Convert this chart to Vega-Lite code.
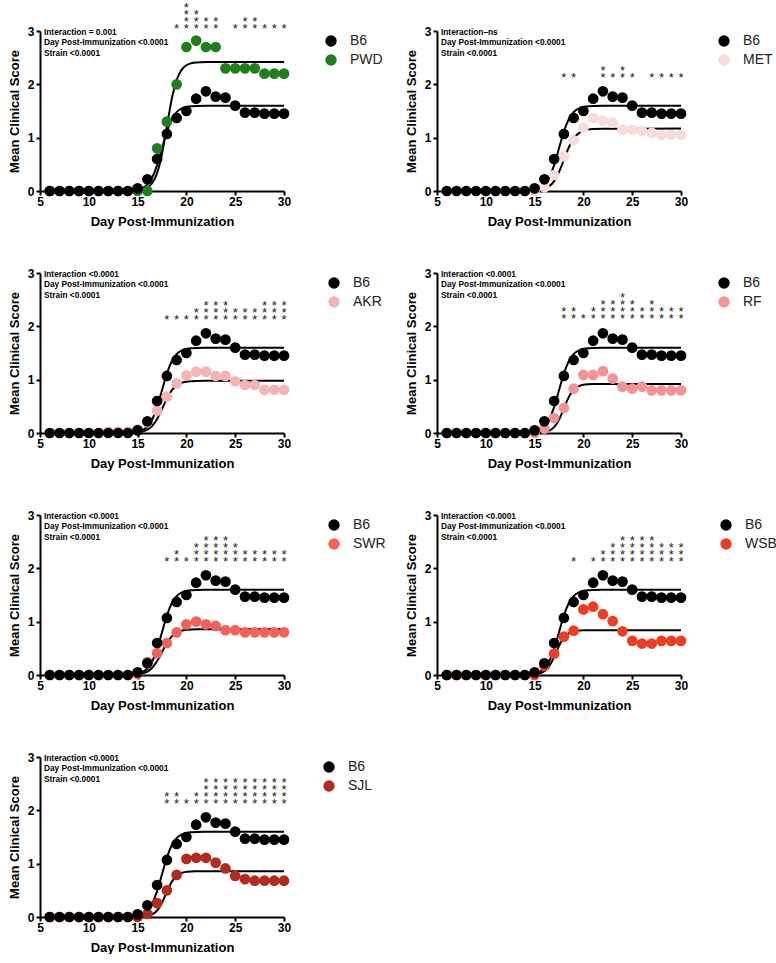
{
"$schema": "https://vega.github.io/schema/vega-lite/v6.json",
"padding": {"left": 8, "top": 2, "right": 0, "bottom": 0},
"bounds": "flush",
"columns": 2,
"spacing": {"row": 82, "column": 153},
"resolve": {"scale": {"color": "independent"}, "legend": {"color": "independent"}},
"datasets": {
"points": [
{"strain":"PWD","day":6,"score":0},{"strain":"PWD","day":7,"score":0},{"strain":"PWD","day":8,"score":0},{"strain":"PWD","day":9,"score":0},{"strain":"PWD","day":10,"score":0},{"strain":"PWD","day":11,"score":0},{"strain":"PWD","day":12,"score":0},{"strain":"PWD","day":13,"score":0},{"strain":"PWD","day":14,"score":0},{"strain":"PWD","day":15,"score":0},{"strain":"PWD","day":16,"score":0},{"strain":"PWD","day":17,"score":0.8},{"strain":"PWD","day":18,"score":1.3},{"strain":"PWD","day":19,"score":2.0},{"strain":"PWD","day":20,"score":2.7},{"strain":"PWD","day":21,"score":2.82},{"strain":"PWD","day":22,"score":2.7},{"strain":"PWD","day":23,"score":2.7},{"strain":"PWD","day":24,"score":2.3},{"strain":"PWD","day":25,"score":2.3},{"strain":"PWD","day":26,"score":2.3},{"strain":"PWD","day":27,"score":2.3},{"strain":"PWD","day":28,"score":2.2},{"strain":"PWD","day":29,"score":2.2},{"strain":"PWD","day":30,"score":2.2},
{"strain":"MET","day":6,"score":0},{"strain":"MET","day":7,"score":0},{"strain":"MET","day":8,"score":0},{"strain":"MET","day":9,"score":0},{"strain":"MET","day":10,"score":0},{"strain":"MET","day":11,"score":0},{"strain":"MET","day":12,"score":0},{"strain":"MET","day":13,"score":0},{"strain":"MET","day":14,"score":0},{"strain":"MET","day":15,"score":0},{"strain":"MET","day":16,"score":0.07},{"strain":"MET","day":17,"score":0.3},{"strain":"MET","day":18,"score":0.65},{"strain":"MET","day":19,"score":0.95},{"strain":"MET","day":20,"score":1.18},{"strain":"MET","day":21,"score":1.37},{"strain":"MET","day":22,"score":1.32},{"strain":"MET","day":23,"score":1.28},{"strain":"MET","day":24,"score":1.15},{"strain":"MET","day":25,"score":1.15},{"strain":"MET","day":26,"score":1.13},{"strain":"MET","day":27,"score":1.09},{"strain":"MET","day":28,"score":1.05},{"strain":"MET","day":29,"score":1.05},{"strain":"MET","day":30,"score":1.05},
{"strain":"AKR","day":6,"score":0},{"strain":"AKR","day":7,"score":0},{"strain":"AKR","day":8,"score":0},{"strain":"AKR","day":9,"score":0},{"strain":"AKR","day":10,"score":0},{"strain":"AKR","day":11,"score":0},{"strain":"AKR","day":12,"score":0.02},{"strain":"AKR","day":13,"score":0.02},{"strain":"AKR","day":14,"score":0.02},{"strain":"AKR","day":15,"score":0.07},{"strain":"AKR","day":16,"score":0.2},{"strain":"AKR","day":17,"score":0.42},{"strain":"AKR","day":18,"score":0.68},{"strain":"AKR","day":19,"score":0.93},{"strain":"AKR","day":20,"score":1.08},{"strain":"AKR","day":21,"score":1.15},{"strain":"AKR","day":22,"score":1.15},{"strain":"AKR","day":23,"score":1.07},{"strain":"AKR","day":24,"score":1.07},{"strain":"AKR","day":25,"score":0.97},{"strain":"AKR","day":26,"score":0.9},{"strain":"AKR","day":27,"score":0.9},{"strain":"AKR","day":28,"score":0.81},{"strain":"AKR","day":29,"score":0.81},{"strain":"AKR","day":30,"score":0.81},
{"strain":"RF","day":6,"score":0},{"strain":"RF","day":7,"score":0},{"strain":"RF","day":8,"score":0},{"strain":"RF","day":9,"score":0},{"strain":"RF","day":10,"score":0},{"strain":"RF","day":11,"score":0},{"strain":"RF","day":12,"score":0},{"strain":"RF","day":13,"score":0},{"strain":"RF","day":14,"score":0},{"strain":"RF","day":15,"score":0},{"strain":"RF","day":16,"score":0.08},{"strain":"RF","day":17,"score":0.28},{"strain":"RF","day":18,"score":0.47},{"strain":"RF","day":19,"score":0.83},{"strain":"RF","day":20,"score":1.09},{"strain":"RF","day":21,"score":1.09},{"strain":"RF","day":22,"score":1.16},{"strain":"RF","day":23,"score":1.02},{"strain":"RF","day":24,"score":0.87},{"strain":"RF","day":25,"score":0.83},{"strain":"RF","day":26,"score":0.87},{"strain":"RF","day":27,"score":0.8},{"strain":"RF","day":28,"score":0.8},{"strain":"RF","day":29,"score":0.8},{"strain":"RF","day":30,"score":0.8},
{"strain":"SWR","day":6,"score":0},{"strain":"SWR","day":7,"score":0},{"strain":"SWR","day":8,"score":0},{"strain":"SWR","day":9,"score":0},{"strain":"SWR","day":10,"score":0},{"strain":"SWR","day":11,"score":0},{"strain":"SWR","day":12,"score":0},{"strain":"SWR","day":13,"score":0},{"strain":"SWR","day":14,"score":0},{"strain":"SWR","day":15,"score":0.02},{"strain":"SWR","day":16,"score":0.24},{"strain":"SWR","day":17,"score":0.41},{"strain":"SWR","day":18,"score":0.6},{"strain":"SWR","day":19,"score":0.8},{"strain":"SWR","day":20,"score":0.95},{"strain":"SWR","day":21,"score":1.0},{"strain":"SWR","day":22,"score":0.95},{"strain":"SWR","day":23,"score":0.92},{"strain":"SWR","day":24,"score":0.84},{"strain":"SWR","day":25,"score":0.84},{"strain":"SWR","day":26,"score":0.8},{"strain":"SWR","day":27,"score":0.8},{"strain":"SWR","day":28,"score":0.8},{"strain":"SWR","day":29,"score":0.8},{"strain":"SWR","day":30,"score":0.8},
{"strain":"WSB","day":6,"score":0},{"strain":"WSB","day":7,"score":0},{"strain":"WSB","day":8,"score":0},{"strain":"WSB","day":9,"score":0},{"strain":"WSB","day":10,"score":0},{"strain":"WSB","day":11,"score":0},{"strain":"WSB","day":12,"score":0},{"strain":"WSB","day":13,"score":0},{"strain":"WSB","day":14,"score":0},{"strain":"WSB","day":15,"score":0},{"strain":"WSB","day":16,"score":0.17},{"strain":"WSB","day":17,"score":0.4},{"strain":"WSB","day":18,"score":0.72},{"strain":"WSB","day":19,"score":0.83},{"strain":"WSB","day":20,"score":1.23},{"strain":"WSB","day":21,"score":1.28},{"strain":"WSB","day":22,"score":1.14},{"strain":"WSB","day":23,"score":1.01},{"strain":"WSB","day":24,"score":0.82},{"strain":"WSB","day":25,"score":0.64},{"strain":"WSB","day":26,"score":0.59},{"strain":"WSB","day":27,"score":0.59},{"strain":"WSB","day":28,"score":0.64},{"strain":"WSB","day":29,"score":0.64},{"strain":"WSB","day":30,"score":0.64},
{"strain":"SJL","day":6,"score":0},{"strain":"SJL","day":7,"score":0},{"strain":"SJL","day":8,"score":0},{"strain":"SJL","day":9,"score":0},{"strain":"SJL","day":10,"score":0},{"strain":"SJL","day":11,"score":0},{"strain":"SJL","day":12,"score":0},{"strain":"SJL","day":13,"score":0},{"strain":"SJL","day":14,"score":0},{"strain":"SJL","day":15,"score":0},{"strain":"SJL","day":16,"score":0.06},{"strain":"SJL","day":17,"score":0.26},{"strain":"SJL","day":18,"score":0.5},{"strain":"SJL","day":19,"score":0.79},{"strain":"SJL","day":20,"score":1.09},{"strain":"SJL","day":21,"score":1.11},{"strain":"SJL","day":22,"score":1.11},{"strain":"SJL","day":23,"score":1.02},{"strain":"SJL","day":24,"score":0.91},{"strain":"SJL","day":25,"score":0.77},{"strain":"SJL","day":26,"score":0.71},{"strain":"SJL","day":27,"score":0.68},{"strain":"SJL","day":28,"score":0.68},{"strain":"SJL","day":29,"score":0.68},{"strain":"SJL","day":30,"score":0.68},
{"strain":"B6","day":6,"score":0},{"strain":"B6","day":7,"score":0},{"strain":"B6","day":8,"score":0},{"strain":"B6","day":9,"score":0},{"strain":"B6","day":10,"score":0},{"strain":"B6","day":11,"score":0},{"strain":"B6","day":12,"score":0},{"strain":"B6","day":13,"score":0},{"strain":"B6","day":14,"score":0},{"strain":"B6","day":15,"score":0.05},{"strain":"B6","day":16,"score":0.22},{"strain":"B6","day":17,"score":0.6},{"strain":"B6","day":18,"score":1.07},{"strain":"B6","day":19,"score":1.37},{"strain":"B6","day":20,"score":1.5},{"strain":"B6","day":21,"score":1.73},{"strain":"B6","day":22,"score":1.87},{"strain":"B6","day":23,"score":1.77},{"strain":"B6","day":24,"score":1.75},{"strain":"B6","day":25,"score":1.6},{"strain":"B6","day":26,"score":1.47},{"strain":"B6","day":27,"score":1.47},{"strain":"B6","day":28,"score":1.45},{"strain":"B6","day":29,"score":1.45},{"strain":"B6","day":30,"score":1.45}
],
"fits": [
{"strain":"B6","day":6,"score":0},{"strain":"B6","day":14,"score":0.004},{"strain":"B6","day":14.5,"score":0.011},{"strain":"B6","day":15,"score":0.025},{"strain":"B6","day":15.5,"score":0.055},{"strain":"B6","day":16,"score":0.121},{"strain":"B6","day":16.5,"score":0.254},{"strain":"B6","day":17,"score":0.485},{"strain":"B6","day":17.5,"score":0.8},{"strain":"B6","day":18,"score":1.115},{"strain":"B6","day":18.5,"score":1.346},{"strain":"B6","day":19,"score":1.479},{"strain":"B6","day":19.5,"score":1.545},{"strain":"B6","day":20,"score":1.575},{"strain":"B6","day":20.5,"score":1.589},{"strain":"B6","day":21,"score":1.595},{"strain":"B6","day":22,"score":1.6},{"strain":"B6","day":30,"score":1.6},
{"strain":"PWD","day":6,"score":0},{"strain":"PWD","day":14.5,"score":0.003},{"strain":"PWD","day":15,"score":0.01},{"strain":"PWD","day":15.5,"score":0.025},{"strain":"PWD","day":16,"score":0.062},{"strain":"PWD","day":16.5,"score":0.149},{"strain":"PWD","day":17,"score":0.338},{"strain":"PWD","day":17.5,"score":0.695},{"strain":"PWD","day":18,"score":1.21},{"strain":"PWD","day":18.5,"score":1.725},{"strain":"PWD","day":19,"score":2.082},{"strain":"PWD","day":19.5,"score":2.271},{"strain":"PWD","day":20,"score":2.358},{"strain":"PWD","day":20.5,"score":2.395},{"strain":"PWD","day":21,"score":2.41},{"strain":"PWD","day":22,"score":2.419},{"strain":"PWD","day":30,"score":2.42},
{"strain":"MET","day":6,"score":0},{"strain":"MET","day":15,"score":0.008},{"strain":"MET","day":15.5,"score":0.018},{"strain":"MET","day":16,"score":0.04},{"strain":"MET","day":16.5,"score":0.089},{"strain":"MET","day":17,"score":0.186},{"strain":"MET","day":17.5,"score":0.355},{"strain":"MET","day":18,"score":0.585},{"strain":"MET","day":18.5,"score":0.815},{"strain":"MET","day":19,"score":0.984},{"strain":"MET","day":19.5,"score":1.081},{"strain":"MET","day":20,"score":1.13},{"strain":"MET","day":20.5,"score":1.152},{"strain":"MET","day":21,"score":1.162},{"strain":"MET","day":22,"score":1.168},{"strain":"MET","day":30,"score":1.17},
{"strain":"AKR","day":6,"score":0},{"strain":"AKR","day":15,"score":0.013},{"strain":"AKR","day":15.5,"score":0.029},{"strain":"AKR","day":16,"score":0.064},{"strain":"AKR","day":16.5,"score":0.135},{"strain":"AKR","day":17,"score":0.264},{"strain":"AKR","day":17.5,"score":0.449},{"strain":"AKR","day":18,"score":0.648},{"strain":"AKR","day":18.5,"score":0.801},{"strain":"AKR","day":19,"score":0.893},{"strain":"AKR","day":19.5,"score":0.94},{"strain":"AKR","day":20,"score":0.962},{"strain":"AKR","day":20.5,"score":0.972},{"strain":"AKR","day":21,"score":0.977},{"strain":"AKR","day":22,"score":0.98},{"strain":"AKR","day":30,"score":0.98},
{"strain":"RF","day":6,"score":0},{"strain":"RF","day":15.5,"score":0.006},{"strain":"RF","day":16,"score":0.017},{"strain":"RF","day":16.5,"score":0.044},{"strain":"RF","day":17,"score":0.11},{"strain":"RF","day":17.5,"score":0.247},{"strain":"RF","day":18,"score":0.46},{"strain":"RF","day":18.5,"score":0.673},{"strain":"RF","day":19,"score":0.81},{"strain":"RF","day":19.5,"score":0.876},{"strain":"RF","day":20,"score":0.904},{"strain":"RF","day":20.5,"score":0.914},{"strain":"RF","day":21,"score":0.918},{"strain":"RF","day":22,"score":0.92},{"strain":"RF","day":30,"score":0.92},
{"strain":"SWR","day":6,"score":0},{"strain":"SWR","day":15,"score":0.013},{"strain":"SWR","day":15.5,"score":0.03},{"strain":"SWR","day":16,"score":0.065},{"strain":"SWR","day":16.5,"score":0.137},{"strain":"SWR","day":17,"score":0.261},{"strain":"SWR","day":17.5,"score":0.43},{"strain":"SWR","day":18,"score":0.599},{"strain":"SWR","day":18.5,"score":0.724},{"strain":"SWR","day":19,"score":0.795},{"strain":"SWR","day":19.5,"score":0.83},{"strain":"SWR","day":20,"score":0.847},{"strain":"SWR","day":20.5,"score":0.854},{"strain":"SWR","day":21,"score":0.858},{"strain":"SWR","day":22,"score":0.86},{"strain":"SWR","day":30,"score":0.86},
{"strain":"WSB","day":6,"score":0},{"strain":"WSB","day":15,"score":0.01},{"strain":"WSB","day":15.5,"score":0.027},{"strain":"WSB","day":16,"score":0.07},{"strain":"WSB","day":16.5,"score":0.166},{"strain":"WSB","day":17,"score":0.337},{"strain":"WSB","day":17.5,"score":0.542},{"strain":"WSB","day":18,"score":0.699},{"strain":"WSB","day":18.5,"score":0.782},{"strain":"WSB","day":19,"score":0.818},{"strain":"WSB","day":19.5,"score":0.832},{"strain":"WSB","day":20,"score":0.837},{"strain":"WSB","day":21,"score":0.839},{"strain":"WSB","day":22,"score":0.84},{"strain":"WSB","day":30,"score":0.84},
{"strain":"SJL","day":6,"score":0},{"strain":"SJL","day":15,"score":0.003},{"strain":"SJL","day":15.5,"score":0.007},{"strain":"SJL","day":16,"score":0.019},{"strain":"SJL","day":16.5,"score":0.049},{"strain":"SJL","day":17,"score":0.122},{"strain":"SJL","day":17.5,"score":0.267},{"strain":"SJL","day":18,"score":0.473},{"strain":"SJL","day":18.5,"score":0.661},{"strain":"SJL","day":19,"score":0.774},{"strain":"SJL","day":19.5,"score":0.826},{"strain":"SJL","day":20,"score":0.847},{"strain":"SJL","day":20.5,"score":0.854},{"strain":"SJL","day":21,"score":0.857},{"strain":"SJL","day":22,"score":0.86},{"strain":"SJL","day":30,"score":0.86}
],
"stars": [
{"strain":"PWD","day":19,"rank":1},{"strain":"PWD","day":20,"rank":1},{"strain":"PWD","day":20,"rank":2},{"strain":"PWD","day":20,"rank":3},{"strain":"PWD","day":20,"rank":4},{"strain":"PWD","day":21,"rank":1},{"strain":"PWD","day":21,"rank":2},{"strain":"PWD","day":21,"rank":3},{"strain":"PWD","day":22,"rank":1},{"strain":"PWD","day":22,"rank":2},{"strain":"PWD","day":23,"rank":1},{"strain":"PWD","day":23,"rank":2},{"strain":"PWD","day":25,"rank":1},{"strain":"PWD","day":26,"rank":1},{"strain":"PWD","day":26,"rank":2},{"strain":"PWD","day":27,"rank":1},{"strain":"PWD","day":27,"rank":2},{"strain":"PWD","day":28,"rank":1},{"strain":"PWD","day":29,"rank":1},{"strain":"PWD","day":30,"rank":1},
{"strain":"MET","day":18,"rank":1},{"strain":"MET","day":19,"rank":1},{"strain":"MET","day":22,"rank":1},{"strain":"MET","day":22,"rank":2},{"strain":"MET","day":23,"rank":1},{"strain":"MET","day":24,"rank":1},{"strain":"MET","day":24,"rank":2},{"strain":"MET","day":25,"rank":1},{"strain":"MET","day":27,"rank":1},{"strain":"MET","day":28,"rank":1},{"strain":"MET","day":29,"rank":1},{"strain":"MET","day":30,"rank":1},
{"strain":"AKR","day":18,"rank":1},{"strain":"AKR","day":19,"rank":1},{"strain":"AKR","day":20,"rank":1},{"strain":"AKR","day":21,"rank":1},{"strain":"AKR","day":21,"rank":2},{"strain":"AKR","day":22,"rank":1},{"strain":"AKR","day":22,"rank":2},{"strain":"AKR","day":22,"rank":3},{"strain":"AKR","day":23,"rank":1},{"strain":"AKR","day":23,"rank":2},{"strain":"AKR","day":23,"rank":3},{"strain":"AKR","day":24,"rank":1},{"strain":"AKR","day":24,"rank":2},{"strain":"AKR","day":24,"rank":3},{"strain":"AKR","day":25,"rank":1},{"strain":"AKR","day":25,"rank":2},{"strain":"AKR","day":26,"rank":1},{"strain":"AKR","day":26,"rank":2},{"strain":"AKR","day":27,"rank":1},{"strain":"AKR","day":27,"rank":2},{"strain":"AKR","day":28,"rank":1},{"strain":"AKR","day":28,"rank":2},{"strain":"AKR","day":28,"rank":3},{"strain":"AKR","day":29,"rank":1},{"strain":"AKR","day":29,"rank":2},{"strain":"AKR","day":29,"rank":3},{"strain":"AKR","day":30,"rank":1},{"strain":"AKR","day":30,"rank":2},{"strain":"AKR","day":30,"rank":3},
{"strain":"RF","day":18,"rank":1},{"strain":"RF","day":18,"rank":2},{"strain":"RF","day":19,"rank":1},{"strain":"RF","day":19,"rank":2},{"strain":"RF","day":20,"rank":1},{"strain":"RF","day":21,"rank":1},{"strain":"RF","day":21,"rank":2},{"strain":"RF","day":22,"rank":1},{"strain":"RF","day":22,"rank":2},{"strain":"RF","day":22,"rank":3},{"strain":"RF","day":23,"rank":1},{"strain":"RF","day":23,"rank":2},{"strain":"RF","day":23,"rank":3},{"strain":"RF","day":24,"rank":1},{"strain":"RF","day":24,"rank":2},{"strain":"RF","day":24,"rank":3},{"strain":"RF","day":24,"rank":4},{"strain":"RF","day":25,"rank":1},{"strain":"RF","day":25,"rank":2},{"strain":"RF","day":25,"rank":3},{"strain":"RF","day":26,"rank":1},{"strain":"RF","day":26,"rank":2},{"strain":"RF","day":27,"rank":1},{"strain":"RF","day":27,"rank":2},{"strain":"RF","day":27,"rank":3},{"strain":"RF","day":28,"rank":1},{"strain":"RF","day":28,"rank":2},{"strain":"RF","day":29,"rank":1},{"strain":"RF","day":29,"rank":2},{"strain":"RF","day":30,"rank":1},{"strain":"RF","day":30,"rank":2},
{"strain":"SWR","day":18,"rank":1},{"strain":"SWR","day":19,"rank":1},{"strain":"SWR","day":19,"rank":2},{"strain":"SWR","day":20,"rank":1},{"strain":"SWR","day":21,"rank":1},{"strain":"SWR","day":21,"rank":2},{"strain":"SWR","day":21,"rank":3},{"strain":"SWR","day":22,"rank":1},{"strain":"SWR","day":22,"rank":2},{"strain":"SWR","day":22,"rank":3},{"strain":"SWR","day":22,"rank":4},{"strain":"SWR","day":23,"rank":1},{"strain":"SWR","day":23,"rank":2},{"strain":"SWR","day":23,"rank":3},{"strain":"SWR","day":23,"rank":4},{"strain":"SWR","day":24,"rank":1},{"strain":"SWR","day":24,"rank":2},{"strain":"SWR","day":24,"rank":3},{"strain":"SWR","day":24,"rank":4},{"strain":"SWR","day":25,"rank":1},{"strain":"SWR","day":25,"rank":2},{"strain":"SWR","day":25,"rank":3},{"strain":"SWR","day":26,"rank":1},{"strain":"SWR","day":26,"rank":2},{"strain":"SWR","day":27,"rank":1},{"strain":"SWR","day":27,"rank":2},{"strain":"SWR","day":28,"rank":1},{"strain":"SWR","day":28,"rank":2},{"strain":"SWR","day":29,"rank":1},{"strain":"SWR","day":29,"rank":2},{"strain":"SWR","day":30,"rank":1},{"strain":"SWR","day":30,"rank":2},
{"strain":"WSB","day":19,"rank":1},{"strain":"WSB","day":21,"rank":1},{"strain":"WSB","day":22,"rank":1},{"strain":"WSB","day":22,"rank":2},{"strain":"WSB","day":23,"rank":1},{"strain":"WSB","day":23,"rank":2},{"strain":"WSB","day":23,"rank":3},{"strain":"WSB","day":24,"rank":1},{"strain":"WSB","day":24,"rank":2},{"strain":"WSB","day":24,"rank":3},{"strain":"WSB","day":24,"rank":4},{"strain":"WSB","day":25,"rank":1},{"strain":"WSB","day":25,"rank":2},{"strain":"WSB","day":25,"rank":3},{"strain":"WSB","day":25,"rank":4},{"strain":"WSB","day":26,"rank":1},{"strain":"WSB","day":26,"rank":2},{"strain":"WSB","day":26,"rank":3},{"strain":"WSB","day":26,"rank":4},{"strain":"WSB","day":27,"rank":1},{"strain":"WSB","day":27,"rank":2},{"strain":"WSB","day":27,"rank":3},{"strain":"WSB","day":27,"rank":4},{"strain":"WSB","day":28,"rank":1},{"strain":"WSB","day":28,"rank":2},{"strain":"WSB","day":28,"rank":3},{"strain":"WSB","day":29,"rank":1},{"strain":"WSB","day":29,"rank":2},{"strain":"WSB","day":29,"rank":3},{"strain":"WSB","day":30,"rank":1},{"strain":"WSB","day":30,"rank":2},{"strain":"WSB","day":30,"rank":3},
{"strain":"SJL","day":18,"rank":1},{"strain":"SJL","day":18,"rank":2},{"strain":"SJL","day":19,"rank":1},{"strain":"SJL","day":19,"rank":2},{"strain":"SJL","day":20,"rank":1},{"strain":"SJL","day":21,"rank":1},{"strain":"SJL","day":21,"rank":2},
{"strain":"SJL","day":22,"rank":1},{"strain":"SJL","day":22,"rank":2},{"strain":"SJL","day":22,"rank":3},{"strain":"SJL","day":22,"rank":4},
{"strain":"SJL","day":23,"rank":1},{"strain":"SJL","day":23,"rank":2},{"strain":"SJL","day":23,"rank":3},{"strain":"SJL","day":23,"rank":4},
{"strain":"SJL","day":24,"rank":1},{"strain":"SJL","day":24,"rank":2},{"strain":"SJL","day":24,"rank":3},{"strain":"SJL","day":24,"rank":4},
{"strain":"SJL","day":25,"rank":1},{"strain":"SJL","day":25,"rank":2},{"strain":"SJL","day":25,"rank":3},{"strain":"SJL","day":25,"rank":4},
{"strain":"SJL","day":26,"rank":1},{"strain":"SJL","day":26,"rank":2},{"strain":"SJL","day":26,"rank":3},{"strain":"SJL","day":26,"rank":4},
{"strain":"SJL","day":27,"rank":1},{"strain":"SJL","day":27,"rank":2},{"strain":"SJL","day":27,"rank":3},{"strain":"SJL","day":27,"rank":4},
{"strain":"SJL","day":28,"rank":1},{"strain":"SJL","day":28,"rank":2},{"strain":"SJL","day":28,"rank":3},{"strain":"SJL","day":28,"rank":4},
{"strain":"SJL","day":29,"rank":1},{"strain":"SJL","day":29,"rank":2},{"strain":"SJL","day":29,"rank":3},{"strain":"SJL","day":29,"rank":4},
{"strain":"SJL","day":30,"rank":1},{"strain":"SJL","day":30,"rank":2},{"strain":"SJL","day":30,"rank":3},{"strain":"SJL","day":30,"rank":4}
],
"notes": [
{"strain":"PWD","note":"Interaction = 0.001\nDay Post-Immunization <0.0001\nStrain <0.0001"},
{"strain":"MET","note":"Interaction–ns\nDay Post-Immunization <0.0001\nStrain <0.0001"},
{"strain":"AKR","note":"Interaction <0.0001\nDay Post-Immunization <0.0001\nStrain <0.0001"},
{"strain":"RF","note":"Interaction <0.0001\nDay Post-Immunization <0.0001\nStrain <0.0001"},
{"strain":"SWR","note":"Interaction <0.0001\nDay Post-Immunization <0.0001\nStrain <0.0001"},
{"strain":"WSB","note":"Interaction <0.0001\nDay Post-Immunization <0.0001\nStrain <0.0001"},
{"strain":"SJL","note":"Interaction <0.0001\nDay Post-Immunization <0.0001\nStrain <0.0001"}
]
},
"concat": [
{"width":244,"height":160,"layer":[
{"data":{"name":"fits"},"transform":[{"filter":{"field":"strain","oneOf":["B6","PWD"]}}],"mark":{"type":"line","color":"#000","strokeWidth":2,"interpolate":"monotone"},"encoding":{"x":{"field":"day","type":"quantitative","scale":{"domain":[5,30],"nice":false},"title":"Day Post-Immunization"},"y":{"field":"score","type":"quantitative","scale":{"domain":[0,3],"nice":false},"title":"Mean Clinical Score"},"detail":{"field":"strain","type":"nominal"}}},
{"data":{"name":"points"},"transform":[{"filter":{"field":"strain","oneOf":["B6","PWD"]}}],"mark":{"type":"circle","size":115,"opacity":1},"encoding":{"x":{"field":"day","type":"quantitative","scale":{"domain":[5,30],"nice":false},"title":"Day Post-Immunization"},"y":{"field":"score","type":"quantitative","scale":{"domain":[0,3],"nice":false},"title":"Mean Clinical Score"},"color":{"field":"strain","type":"nominal","scale":{"domain":["B6","PWD"],"range":["#000000","#1f7f1f"]},"legend":{"title":null,"orient":"none","legendX":284,"legendY":3}}}},
{"data":{"name":"stars"},"transform":[{"filter":{"field":"strain","equal":"PWD"}}],"mark":{"type":"text","text":"*","fontSize":13,"baseline":"middle","dy":4,"color":"#222"},"encoding":{"x":{"field":"day","type":"quantitative","scale":{"domain":[5,30],"nice":false},"title":"Day Post-Immunization"},"y":{"datum":3.11,"type":"quantitative","scale":{"domain":[0,3],"nice":false},"title":"Mean Clinical Score"},"yOffset":{"field":"rank","type":"quantitative","scale":{"domain":[1,4],"range":[0,-21]}}}},
{"data":{"name":"notes"},"transform":[{"filter":{"field":"strain","equal":"PWD"}}],"mark":{"type":"text","align":"left","baseline":"top","dx":4,"dy":-3,"fontSize":8.3,"fontWeight":"bold","lineHeight":10.3,"lineBreak":"\n","color":"#000"},"encoding":{"x":{"datum":5,"type":"quantitative","scale":{"domain":[5,30],"nice":false},"title":"Day Post-Immunization"},"y":{"datum":3,"type":"quantitative","scale":{"domain":[0,3],"nice":false},"title":"Mean Clinical Score"},"text":{"field":"note","type":"nominal"}}}
]},
{"width":244,"height":160,"layer":[
{"data":{"name":"fits"},"transform":[{"filter":{"field":"strain","oneOf":["B6","MET"]}}],"mark":{"type":"line","color":"#000","strokeWidth":2,"interpolate":"monotone"},"encoding":{"x":{"field":"day","type":"quantitative","scale":{"domain":[5,30],"nice":false},"title":"Day Post-Immunization"},"y":{"field":"score","type":"quantitative","scale":{"domain":[0,3],"nice":false},"title":"Mean Clinical Score"},"detail":{"field":"strain","type":"nominal"}}},
{"data":{"name":"points"},"transform":[{"filter":{"field":"strain","oneOf":["B6","MET"]}}],"mark":{"type":"circle","size":115,"opacity":1},"encoding":{"x":{"field":"day","type":"quantitative","scale":{"domain":[5,30],"nice":false},"title":"Day Post-Immunization"},"y":{"field":"score","type":"quantitative","scale":{"domain":[0,3],"nice":false},"title":"Mean Clinical Score"},"color":{"field":"strain","type":"nominal","scale":{"domain":["B6","MET"],"range":["#000000","#f8dcdc"]},"legend":{"title":null,"orient":"none","legendX":280,"legendY":3}}}},
{"data":{"name":"stars"},"transform":[{"filter":{"field":"strain","equal":"MET"}}],"mark":{"type":"text","text":"*","fontSize":13,"baseline":"middle","dy":4,"color":"#222"},"encoding":{"x":{"field":"day","type":"quantitative","scale":{"domain":[5,30],"nice":false},"title":"Day Post-Immunization"},"y":{"datum":2.19,"type":"quantitative","scale":{"domain":[0,3],"nice":false},"title":"Mean Clinical Score"},"yOffset":{"field":"rank","type":"quantitative","scale":{"domain":[1,4],"range":[0,-21]}}}},
{"data":{"name":"notes"},"transform":[{"filter":{"field":"strain","equal":"MET"}}],"mark":{"type":"text","align":"left","baseline":"top","dx":4,"dy":-3,"fontSize":8.3,"fontWeight":"bold","lineHeight":10.3,"lineBreak":"\n","color":"#000"},"encoding":{"x":{"datum":5,"type":"quantitative","scale":{"domain":[5,30],"nice":false},"title":"Day Post-Immunization"},"y":{"datum":3,"type":"quantitative","scale":{"domain":[0,3],"nice":false},"title":"Mean Clinical Score"},"text":{"field":"note","type":"nominal"}}}
]},
{"width":244,"height":160,"layer":[
{"data":{"name":"fits"},"transform":[{"filter":{"field":"strain","oneOf":["B6","AKR"]}}],"mark":{"type":"line","color":"#000","strokeWidth":2,"interpolate":"monotone"},"encoding":{"x":{"field":"day","type":"quantitative","scale":{"domain":[5,30],"nice":false},"title":"Day Post-Immunization"},"y":{"field":"score","type":"quantitative","scale":{"domain":[0,3],"nice":false},"title":"Mean Clinical Score"},"detail":{"field":"strain","type":"nominal"}}},
{"data":{"name":"points"},"transform":[{"filter":{"field":"strain","oneOf":["B6","AKR"]}}],"mark":{"type":"circle","size":115,"opacity":1},"encoding":{"x":{"field":"day","type":"quantitative","scale":{"domain":[5,30],"nice":false},"title":"Day Post-Immunization"},"y":{"field":"score","type":"quantitative","scale":{"domain":[0,3],"nice":false},"title":"Mean Clinical Score"},"color":{"field":"strain","type":"nominal","scale":{"domain":["B6","AKR"],"range":["#000000","#f6b3b3"]},"legend":{"title":null,"orient":"none","legendX":287,"legendY":3}}}},
{"data":{"name":"stars"},"transform":[{"filter":{"field":"strain","equal":"AKR"}}],"mark":{"type":"text","text":"*","fontSize":13,"baseline":"middle","dy":4,"color":"#222"},"encoding":{"x":{"field":"day","type":"quantitative","scale":{"domain":[5,30],"nice":false},"title":"Day Post-Immunization"},"y":{"datum":2.2,"type":"quantitative","scale":{"domain":[0,3],"nice":false},"title":"Mean Clinical Score"},"yOffset":{"field":"rank","type":"quantitative","scale":{"domain":[1,4],"range":[0,-21]}}}},
{"data":{"name":"notes"},"transform":[{"filter":{"field":"strain","equal":"AKR"}}],"mark":{"type":"text","align":"left","baseline":"top","dx":4,"dy":-3,"fontSize":8.3,"fontWeight":"bold","lineHeight":10.3,"lineBreak":"\n","color":"#000"},"encoding":{"x":{"datum":5,"type":"quantitative","scale":{"domain":[5,30],"nice":false},"title":"Day Post-Immunization"},"y":{"datum":3,"type":"quantitative","scale":{"domain":[0,3],"nice":false},"title":"Mean Clinical Score"},"text":{"field":"note","type":"nominal"}}}
]},
{"width":244,"height":160,"layer":[
{"data":{"name":"fits"},"transform":[{"filter":{"field":"strain","oneOf":["B6","RF"]}}],"mark":{"type":"line","color":"#000","strokeWidth":2,"interpolate":"monotone"},"encoding":{"x":{"field":"day","type":"quantitative","scale":{"domain":[5,30],"nice":false},"title":"Day Post-Immunization"},"y":{"field":"score","type":"quantitative","scale":{"domain":[0,3],"nice":false},"title":"Mean Clinical Score"},"detail":{"field":"strain","type":"nominal"}}},
{"data":{"name":"points"},"transform":[{"filter":{"field":"strain","oneOf":["B6","RF"]}}],"mark":{"type":"circle","size":115,"opacity":1},"encoding":{"x":{"field":"day","type":"quantitative","scale":{"domain":[5,30],"nice":false},"title":"Day Post-Immunization"},"y":{"field":"score","type":"quantitative","scale":{"domain":[0,3],"nice":false},"title":"Mean Clinical Score"},"color":{"field":"strain","type":"nominal","scale":{"domain":["B6","RF"],"range":["#000000","#f39393"]},"legend":{"title":null,"orient":"none","legendX":280,"legendY":3}}}},
{"data":{"name":"stars"},"transform":[{"filter":{"field":"strain","equal":"RF"}}],"mark":{"type":"text","text":"*","fontSize":13,"baseline":"middle","dy":4,"color":"#222"},"encoding":{"x":{"field":"day","type":"quantitative","scale":{"domain":[5,30],"nice":false},"title":"Day Post-Immunization"},"y":{"datum":2.22,"type":"quantitative","scale":{"domain":[0,3],"nice":false},"title":"Mean Clinical Score"},"yOffset":{"field":"rank","type":"quantitative","scale":{"domain":[1,4],"range":[0,-21]}}}},
{"data":{"name":"notes"},"transform":[{"filter":{"field":"strain","equal":"RF"}}],"mark":{"type":"text","align":"left","baseline":"top","dx":4,"dy":-3,"fontSize":8.3,"fontWeight":"bold","lineHeight":10.3,"lineBreak":"\n","color":"#000"},"encoding":{"x":{"datum":5,"type":"quantitative","scale":{"domain":[5,30],"nice":false},"title":"Day Post-Immunization"},"y":{"datum":3,"type":"quantitative","scale":{"domain":[0,3],"nice":false},"title":"Mean Clinical Score"},"text":{"field":"note","type":"nominal"}}}
]},
{"width":244,"height":160,"layer":[
{"data":{"name":"fits"},"transform":[{"filter":{"field":"strain","oneOf":["B6","SWR"]}}],"mark":{"type":"line","color":"#000","strokeWidth":2,"interpolate":"monotone"},"encoding":{"x":{"field":"day","type":"quantitative","scale":{"domain":[5,30],"nice":false},"title":"Day Post-Immunization"},"y":{"field":"score","type":"quantitative","scale":{"domain":[0,3],"nice":false},"title":"Mean Clinical Score"},"detail":{"field":"strain","type":"nominal"}}},
{"data":{"name":"points"},"transform":[{"filter":{"field":"strain","oneOf":["B6","SWR"]}}],"mark":{"type":"circle","size":115,"opacity":1},"encoding":{"x":{"field":"day","type":"quantitative","scale":{"domain":[5,30],"nice":false},"title":"Day Post-Immunization"},"y":{"field":"score","type":"quantitative","scale":{"domain":[0,3],"nice":false},"title":"Mean Clinical Score"},"color":{"field":"strain","type":"nominal","scale":{"domain":["B6","SWR"],"range":["#000000","#f2625b"]},"legend":{"title":null,"orient":"none","legendX":287,"legendY":3}}}},
{"data":{"name":"stars"},"transform":[{"filter":{"field":"strain","equal":"SWR"}}],"mark":{"type":"text","text":"*","fontSize":13,"baseline":"middle","dy":4,"color":"#222"},"encoding":{"x":{"field":"day","type":"quantitative","scale":{"domain":[5,30],"nice":false},"title":"Day Post-Immunization"},"y":{"datum":2.19,"type":"quantitative","scale":{"domain":[0,3],"nice":false},"title":"Mean Clinical Score"},"yOffset":{"field":"rank","type":"quantitative","scale":{"domain":[1,4],"range":[0,-21]}}}},
{"data":{"name":"notes"},"transform":[{"filter":{"field":"strain","equal":"SWR"}}],"mark":{"type":"text","align":"left","baseline":"top","dx":4,"dy":-3,"fontSize":8.3,"fontWeight":"bold","lineHeight":10.3,"lineBreak":"\n","color":"#000"},"encoding":{"x":{"datum":5,"type":"quantitative","scale":{"domain":[5,30],"nice":false},"title":"Day Post-Immunization"},"y":{"datum":3,"type":"quantitative","scale":{"domain":[0,3],"nice":false},"title":"Mean Clinical Score"},"text":{"field":"note","type":"nominal"}}}
]},
{"width":244,"height":160,"layer":[
{"data":{"name":"fits"},"transform":[{"filter":{"field":"strain","oneOf":["B6","WSB"]}}],"mark":{"type":"line","color":"#000","strokeWidth":2,"interpolate":"monotone"},"encoding":{"x":{"field":"day","type":"quantitative","scale":{"domain":[5,30],"nice":false},"title":"Day Post-Immunization"},"y":{"field":"score","type":"quantitative","scale":{"domain":[0,3],"nice":false},"title":"Mean Clinical Score"},"detail":{"field":"strain","type":"nominal"}}},
{"data":{"name":"points"},"transform":[{"filter":{"field":"strain","oneOf":["B6","WSB"]}}],"mark":{"type":"circle","size":115,"opacity":1},"encoding":{"x":{"field":"day","type":"quantitative","scale":{"domain":[5,30],"nice":false},"title":"Day Post-Immunization"},"y":{"field":"score","type":"quantitative","scale":{"domain":[0,3],"nice":false},"title":"Mean Clinical Score"},"color":{"field":"strain","type":"nominal","scale":{"domain":["B6","WSB"],"range":["#000000","#ee3d22"]},"legend":{"title":null,"orient":"none","legendX":282,"legendY":3}}}},
{"data":{"name":"stars"},"transform":[{"filter":{"field":"strain","equal":"WSB"}}],"mark":{"type":"text","text":"*","fontSize":13,"baseline":"middle","dy":4,"color":"#222"},"encoding":{"x":{"field":"day","type":"quantitative","scale":{"domain":[5,30],"nice":false},"title":"Day Post-Immunization"},"y":{"datum":2.19,"type":"quantitative","scale":{"domain":[0,3],"nice":false},"title":"Mean Clinical Score"},"yOffset":{"field":"rank","type":"quantitative","scale":{"domain":[1,4],"range":[0,-21]}}}},
{"data":{"name":"notes"},"transform":[{"filter":{"field":"strain","equal":"WSB"}}],"mark":{"type":"text","align":"left","baseline":"top","dx":4,"dy":-3,"fontSize":8.3,"fontWeight":"bold","lineHeight":10.3,"lineBreak":"\n","color":"#000"},"encoding":{"x":{"datum":5,"type":"quantitative","scale":{"domain":[5,30],"nice":false},"title":"Day Post-Immunization"},"y":{"datum":3,"type":"quantitative","scale":{"domain":[0,3],"nice":false},"title":"Mean Clinical Score"},"text":{"field":"note","type":"nominal"}}}
]},
{"width":244,"height":160,"layer":[
{"data":{"name":"fits"},"transform":[{"filter":{"field":"strain","oneOf":["B6","SJL"]}}],"mark":{"type":"line","color":"#000","strokeWidth":2,"interpolate":"monotone"},"encoding":{"x":{"field":"day","type":"quantitative","scale":{"domain":[5,30],"nice":false},"title":"Day Post-Immunization"},"y":{"field":"score","type":"quantitative","scale":{"domain":[0,3],"nice":false},"title":"Mean Clinical Score"},"detail":{"field":"strain","type":"nominal"}}},
{"data":{"name":"points"},"transform":[{"filter":{"field":"strain","oneOf":["B6","SJL"]}}],"mark":{"type":"circle","size":115,"opacity":1},"encoding":{"x":{"field":"day","type":"quantitative","scale":{"domain":[5,30],"nice":false},"title":"Day Post-Immunization"},"y":{"field":"score","type":"quantitative","scale":{"domain":[0,3],"nice":false},"title":"Mean Clinical Score"},"color":{"field":"strain","type":"nominal","scale":{"domain":["B6","SJL"],"range":["#000000","#b42a1e"]},"legend":{"title":null,"orient":"none","legendX":282,"legendY":3}}}},
{"data":{"name":"stars"},"transform":[{"filter":{"field":"strain","equal":"SJL"}}],"mark":{"type":"text","text":"*","fontSize":13,"baseline":"middle","dy":4,"color":"#222"},"encoding":{"x":{"field":"day","type":"quantitative","scale":{"domain":[5,30],"nice":false},"title":"Day Post-Immunization"},"y":{"datum":2.2,"type":"quantitative","scale":{"domain":[0,3],"nice":false},"title":"Mean Clinical Score"},"yOffset":{"field":"rank","type":"quantitative","scale":{"domain":[1,4],"range":[0,-21]}}}},
{"data":{"name":"notes"},"transform":[{"filter":{"field":"strain","equal":"SJL"}}],"mark":{"type":"text","align":"left","baseline":"top","dx":4,"dy":-3,"fontSize":8.3,"fontWeight":"bold","lineHeight":10.3,"lineBreak":"\n","color":"#000"},"encoding":{"x":{"datum":5,"type":"quantitative","scale":{"domain":[5,30],"nice":false},"title":"Day Post-Immunization"},"y":{"datum":3,"type":"quantitative","scale":{"domain":[0,3],"nice":false},"title":"Mean Clinical Score"},"text":{"field":"note","type":"nominal"}}}
]}
],
"config": {
"font": "Liberation Sans",
"view": {"stroke": null},
"axis": {"grid": false, "domainColor": "#000", "domainWidth": 2, "tickColor": "#000", "tickWidth": 2, "tickSize": 4, "labelFont": "Liberation Sans", "labelFontSize": 12, "labelFontWeight": "bold", "labelColor": "#000", "titleFont": "Liberation Sans", "titleFontSize": 13, "titleFontWeight": "bold", "titleColor": "#000", "labelFlush": false, "labelOverlap": false},
"axisX": {"tickCount": 5, "labelPadding": 1, "titlePadding": 8},
"axisY": {"tickCount": 3, "labelPadding": 2, "titlePadding": 6},
"legend": {"symbolType": "circle", "symbolSize": 130, "labelFontSize": 14, "labelFont": "Liberation Sans", "labelColor": "#222", "rowPadding": 5, "labelOffset": 12, "padding": 0, "symbolStrokeWidth": 0}
}
}
